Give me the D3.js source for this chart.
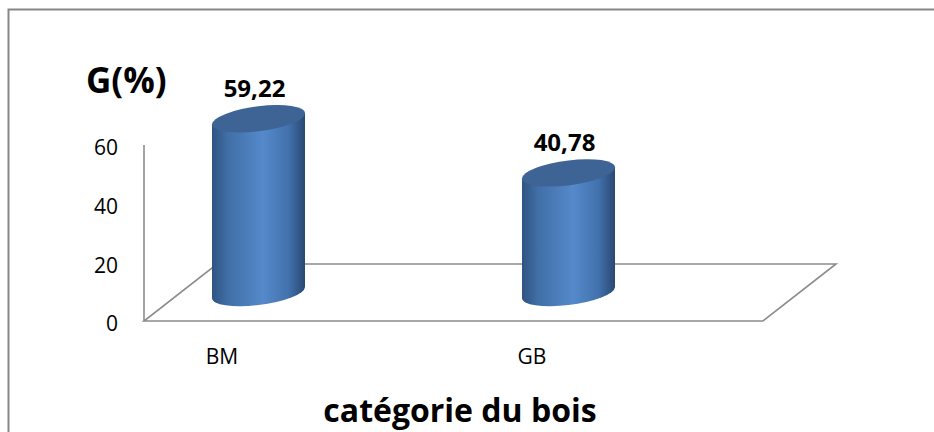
<!DOCTYPE html>
<html>
<head>
<meta charset="utf-8">
<script src="https://cdn.jsdelivr.net/npm/d3@7"></script>
<style>
  body { margin: 0; background: #fff; }
  text { font-family: "Open Sans", "Liberation Sans", sans-serif; fill: #000; }
</style>
</head>
<body>
<div id="chart"></div>
<script>
(function(){
  var width = 934,
    height = 432;

  // data
  var categories = ["BM", "GB"];
  var values = [59.22, 40.78];
  var valueLabels = ["59,22", "40,78"];
  var yTicks = [0, 20, 40, 60];

  var svg = d3.select("#chart")
    .append("svg")
    .attr("width", width)
    .attr("height", height)

  // outer frame (right and bottom edges are off the picture)
  svg.append("rect")
    .attr("x", 8.5).attr("y", 9.5)
    .attr("width", 960).attr("height", 460)
    .attr("fill", "none")
    .attr("stroke", "#878787")
    .attr("stroke-width", 2)

  var y = d3.scaleLinear().domain([0, 60]).range([321, 145])
  // front-plane label positions
  var x = d3.scaleBand().domain(categories).range([67, 687])

  // oblique depth of the floor
  var depthX = 73, depthY = -57;
  var floorLeft = 144, floorRight = 763;

  var defs = svg.append("defs")
  var grad = defs.append("linearGradient")
    .attr("id", "cyl")
    .attr("x1", "0%").attr("x2", "100%")
    .attr("y1", "0%").attr("y2", "0%")
  grad.append("stop").attr("offset", "0%").attr("stop-color", "#2f5482")
  grad.append("stop").attr("offset", "18%").attr("stop-color", "#4170a8")
  grad.append("stop").attr("offset", "55%").attr("stop-color", "#5589ca")
  grad.append("stop").attr("offset", "82%").attr("stop-color", "#4272ad")
  grad.append("stop").attr("offset", "100%").attr("stop-color", "#2a4873")

  // floor
  var floor = svg.append("g")
    .attr("fill", "none")
    .attr("stroke", "#8c8c8c")
    .attr("stroke-width", 1.6)
  floor.append("path")
    .attr("d", "M" + floorLeft + "," + y(0) +
      "L" + floorRight + "," + y(0) +
      "L" + (floorRight + depthX) + "," + (y(0) + depthY) +
      "L" + (floorLeft + depthX) + "," + (y(0) + depthY) +
      "Z")

  // vertical axis line
  svg.append("line")
    .attr("x1", floorLeft).attr("x2", floorLeft)
    .attr("y1", y(60)).attr("y2", y(0))
    .attr("stroke", "#8c8c8c")
    .attr("stroke-width", 1.6)

  // tick labels
  svg.selectAll(".tick-label")
    .data(yTicks)
    .enter().append("text")
    .attr("class", "tick-label")
    .attr("x", 118)
    .attr("y", function(d){ return y(d) + 3; })
    .attr("dy", "0.35em")
    .attr("text-anchor", "end")
    .attr("font-size", 21)
    .text(function(d){ return d; })

  // cylinders sit half way into the depth
  var rx = 46.5, ry = 12.5, shear = 0.12;
  var baseY = y(0) + depthY / 2;

  var cyl = svg.selectAll(".cyl")
    .data(values)
    .enter().append("g")
    .attr("class", "cyl")
    .attr("transform", function(d, i){
      var cx = x(categories[i]) + x.bandwidth() / 2 + depthX / 2;
      return "translate(" + cx + ",0) matrix(1," + (-shear) + ",0,1,0,0)";
    })

  cyl.append("path")
    .attr("fill", "url(#cyl)")
    .attr("d", function(d){
      var top = y(d) + depthY / 2;
      return "M" + (-rx) + "," + top +
        "L" + (-rx) + "," + baseY +
        "A" + rx + " " + ry + " 0 0 0 " + rx + "," + baseY +
        "L" + rx + "," + top + "Z";
    })

  cyl.append("ellipse")
    .attr("cx", 0)
    .attr("cy", function(d){ return y(d) + depthY / 2; })
    .attr("rx", rx)
    .attr("ry", ry)
    .attr("fill", "#3d6494")

  // value labels
  svg.selectAll(".value-label")
    .data(values)
    .enter().append("text")
    .attr("class", "value-label")
    .attr("x", function(d, i){ return x(categories[i]) + x.bandwidth() / 2 + depthX / 2 - 4; })
    .attr("y", function(d){ return y(d) + depthY / 2 - 22; })
    .attr("text-anchor", "middle")
    .attr("font-size", 24)
    .attr("font-weight", "bold")
    .text(function(d, i){ return valueLabels[i]; })

  // category labels
  svg.selectAll(".cat-label")
    .data(categories)
    .enter().append("text")
    .attr("class", "cat-label")
    .attr("x", function(d){ return x(d) + x.bandwidth() / 2; })
    .attr("y", 364)
    .attr("text-anchor", "middle")
    .attr("font-size", 21)
    .text(function(d){ return d; })

  // titles
  svg.append("text")
    .attr("x", 86)
    .attr("y", 93)
    .attr("font-size", 35)
    .attr("font-weight", "bold")
    .text("G(%)")

  svg.append("text")
    .attr("x", 460)
    .attr("y", 422)
    .attr("text-anchor", "middle")
    .attr("font-size", 32)
    .attr("font-weight", "bold")
    .text("catégorie du bois")

})();
</script>
</body>
</html>
